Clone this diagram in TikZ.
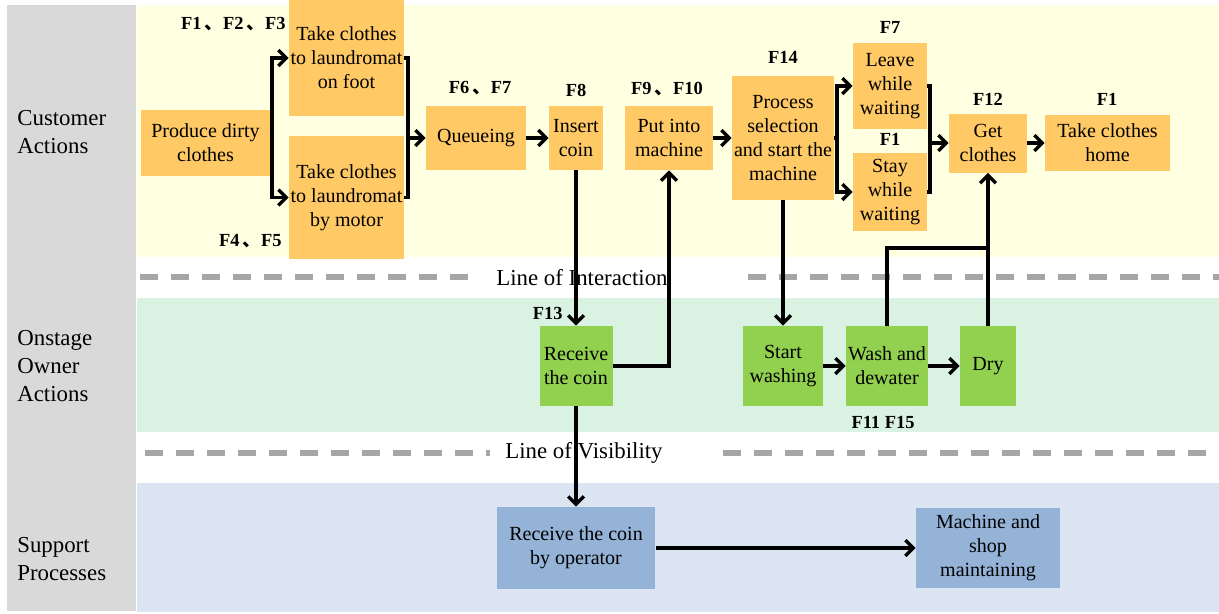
\documentclass[tikz,border=0pt]{standalone}
\usepackage{fontspec}
\setmainfont{Liberation Serif}
\newfontfamily\cjk{Noto Sans CJK SC}
\usetikzlibrary{arrows.meta}
\definecolor{lanegray}{HTML}{D9D9D9}
\definecolor{custbg}{HTML}{FFFFE1}
\definecolor{onbg}{HTML}{D9F2E2}
\definecolor{supbg}{HTML}{DBE5F1}
\definecolor{custfill}{HTML}{FFC965}
\definecolor{onfill}{HTML}{92D050}
\definecolor{supfill}{HTML}{95B3D7}
\definecolor{dashgray}{HTML}{A6A6A6}
\newcommand{\sep}{\,{\cjk 、}}

\begin{document}
\begin{tikzpicture}[x=0.02cm, y=-0.02cm,
	box/.style={shape=rectangle, align=center, inner sep=0pt, font=\fontsize{11.4}{13.7}\selectfont},
	custbox/.style={box, fill=custfill},
	onbox/.style={box, fill=onfill},
	supbox/.style={box, fill=supfill},
	flabel/.style={font=\bfseries\fontsize{10.5}{12}\selectfont, inner sep=0pt},
	lanelabel/.style={anchor=west, align=left, inner sep=0pt, font=\fontsize{13}{16}\selectfont},
	sepline/.style={dashgray, line width=3pt, dash pattern=on 0.36cm off 0.26cm},
	wire/.style={line width=1.9pt},
	flow/.style={wire, -{Straight Barb[length=4.5pt, width=9pt]}}]
	\useasboundingbox (0,0) rectangle (1219,613);
	% Lanes:
	\fill[lanegray] (7,5) rectangle (136,611);
	\fill[custbg] (137,5) rectangle (1219,257);
	\fill[onbg] (137,298) rectangle (1219,432);
	\fill[supbg] (137,483) rectangle (1219,612);
	\node[lanelabel] (lanecust) at (17,132){Customer\\Actions};
	\node[lanelabel] (laneon) at (17,366){Onstage\\Owner\\Actions};
	\node[lanelabel] (lanesup) at (17,559){Support\\Processes};
	% Lines of interaction and visibility:
	\node[font=\fontsize{13}{15}\selectfont, inner sep=0pt] (interaction) at (582,278){Line of Interaction};
	\node[font=\fontsize{13}{15}\selectfont, inner sep=0pt] (visibility) at (584,453){Line of Visibility};
	\draw[sepline] (140,277) -- ([xshift=-0.5cm]interaction.west |- 0,277);
	\draw[sepline] ([xshift=1.6cm]interaction.east |- 0,277) -- (1219,277);
	\draw[sepline] (145,453) -- ([xshift=-0.3cm]visibility.west |- 0,453);
	\draw[sepline] ([xshift=1.2cm]visibility.east |- 0,453) -- (1219,453);
	% Customer actions:
	\node[custbox, minimum width=2.58cm, minimum height=1.32cm] (produce) at (205.5,143){Produce dirty\\clothes};
	\node[custbox, minimum width=2.3cm, minimum height=2.32cm] (foot) at (346.5,58){Take clothes\\to laundromat\\on foot};
	\node[custbox, minimum width=2.3cm, minimum height=2.46cm] (motor) at (346.5,197.5){Take clothes\\to laundromat\\by motor};
	\node[custbox, minimum width=2cm, minimum height=1.28cm] (queue) at (476,138){Queueing};
	\node[custbox, minimum width=1.08cm, minimum height=1.28cm] (insert) at (576,138){Insert\\coin};
	\node[custbox, minimum width=1.76cm, minimum height=1.28cm] (put) at (669,138){Put into\\machine};
	\node[custbox, minimum width=2.04cm, minimum height=2.48cm] (process) at (783,138){Process\\selection\\and start the\\machine};
	\node[custbox, minimum width=1.48cm, minimum height=1.72cm] (leave) at (890,86){Leave\\while\\waiting};
	\node[custbox, minimum width=1.48cm, minimum height=1.56cm] (stay) at (890,192){Stay\\while\\waiting};
	\node[custbox, minimum width=1.56cm, minimum height=1.18cm] (get) at (988,143){Get\\clothes};
	\node[custbox, minimum width=2.5cm, minimum height=1.12cm] (home) at (1107.5,143){Take clothes\\home};
	% Onstage owner actions:
	\node[onbox, minimum width=1.46cm, minimum height=1.6cm] (rcoin) at (576,366){Receive\\the coin};
	\node[onbox, minimum width=1.6cm, minimum height=1.6cm] (start) at (783,366){Start\\washing};
	\node[onbox, minimum width=1.64cm, minimum height=1.6cm] (wash) at (887,366){Wash and\\dewater};
	\node[onbox, minimum width=1.12cm, minimum height=1.6cm] (dry) at (988,366){Dry};
	% Support processes:
	\node[supbox, minimum width=3.18cm, minimum height=1.64cm] (opcoin) at (576,548){Receive the coin\\by operator};
	\node[supbox, minimum width=2.88cm, minimum height=1.6cm] (maint) at (988,548){Machine and\\shop\\maintaining};
	% F labels:
	\node[flabel, anchor=east] (fa) at (286,24){F1\sep F2\sep F3};
	\node[flabel, anchor=east] (fb) at (282,241){F4\sep F5};
	\node[flabel] (fc) at (480,88){F6\sep F7};
	\node[flabel] (fd) at (576,90){F8};
	\node[flabel] (fe) at (667,89){F9\sep F10};
	\node[flabel] (ff) at (783,57){F14};
	\node[flabel] (fg) at (890,27){F7};
	\node[flabel] (fh) at (890,139){F1};
	\node[flabel] (fi) at (988,99){F12};
	\node[flabel] (fj) at (1107,99){F1};
	\node[flabel, anchor=east] (fk) at (563,313){F13};
	\node[flabel] (fl) at (883,422){F11 F15};
	% Connectors:
	\coordinate (fork1) at (272,143);
	\coordinate (join1) at (408,138);
	\coordinate (fork2) at (837,138);
	\coordinate (join2) at (930,143);
	\coordinate (meet) at (988,248);
	\draw[wire] (produce.east) -- (fork1);
	\draw[flow] (fork1) |- (foot.west);
	\draw[flow] (fork1) |- (motor.west);
	\draw[wire] (foot.east) -| (join1);
	\draw[wire] (motor.east) -| (join1);
	\draw[flow] (join1) -- (queue.west);
	\draw[flow] (queue) -- (insert);
	\draw[flow] (insert) -- (rcoin);
	\draw[flow] (rcoin.east) -| (put.south);
	\draw[flow] (put) -- (process);
	\draw[wire] (process.east) -- (fork2);
	\draw[flow] (fork2) |- (leave.west);
	\draw[flow] (fork2) |- (stay.west);
	\draw[wire] (leave.east) -| (join2);
	\draw[wire] (stay.east) -| (join2);
	\draw[flow] (join2) -- (get.west);
	\draw[flow] (get) -- (home);
	\draw[flow] (process) -- (start);
	\draw[flow] (start) -- (wash);
	\draw[flow] (wash) -- (dry);
	\draw[wire] (wash.north) |- (meet);
	\draw[flow] (dry) -- (get);
	\draw[flow] (rcoin) -- (opcoin);
	\draw[flow] (opcoin) -- (maint);
\end{tikzpicture}
\end{document}
